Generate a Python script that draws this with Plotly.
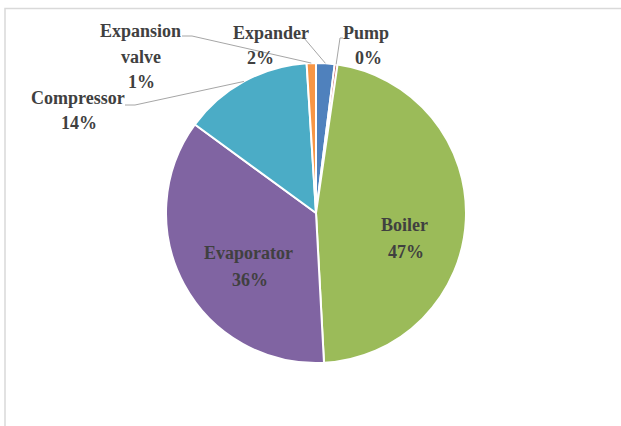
import math
import plotly.graph_objects as go

# ---- data (Excel order, clockwise from 12 o'clock) ----
labels = ["Expander", "Pump", "Boiler", "Evaporator", "Compressor", "Expansion valve"]
values = [2.0, 0.3, 47.0, 36.0, 14.0, 1.0]
colors = ["#4F81BD", "#C0504D", "#9BBB59", "#8064A2", "#4BACC6", "#F79646"]
label_lines = [["Expander"], ["Pump"], ["Boiler"], ["Evaporator"], ["Compressor"], ["Expansion", "valve"]]

W, H = 621, 426
CX, CY, R = 316, 213, 150

def px(x):
    return x / W

def py(y):
    return 1 - y / H

fig = go.Figure(go.Pie(
    labels=labels,
    values=values,
    sort=False,
    direction="clockwise",
    rotation=0,
    marker=dict(colors=colors, line=dict(color="white", width=2)),
    textinfo="none",
    hoverinfo="label+percent",
    domain=dict(x=[px(CX - R), px(CX + R)], y=[py(CY + R), py(CY - R)]),
    showlegend=False,
))

total = sum(values)
# layout: centre of each text line, leader start (x, y, horizontal stub dx) or None
label_layout = {
    "Expander": ([(271, 33), (260, 58)], (298, 38, 6)),
    "Pump": ([(366, 33), (368, 58)], (343, 38, -3)),
    "Boiler": ([(404, 225), (406, 252)], None),
    "Evaporator": ([(248, 253), (250, 280)], None),
    "Compressor": ([(78, 98), (79, 123)], (125, 105, 10)),
    "Expansion valve": ([(140, 31), (141, 57), (141, 82)], (182, 36, 10)),
}

font = dict(family="Liberation Serif", size=18, color="#404040", weight="bold")
annotations = []
shapes = [dict(type="rect", xref="paper", yref="paper",
               x0=px(5), x1=1.05, y0=-0.05, y1=py(8.5),
               line=dict(color="#D9D9D9", width=1.5))]
cum = 0.0
for lab, lines, v in zip(labels, label_lines, values):
    mid = (cum + v / 2) / total * 2 * math.pi
    cum += v
    pct = f"{round(v / total * 100):.0f}%"
    pos, leader = label_layout[lab]
    for txt, (lx, ly) in zip(lines + [pct], pos):
        annotations.append(dict(
            x=px(lx), y=py(ly), xref="paper", yref="paper",
            xanchor="center", yanchor="middle",
            text=txt, showarrow=False, font=font, align="center",
        ))
    if leader:
        sx, sy, stub = leader
        tx = CX + R * math.sin(mid)
        ty = CY - R * math.cos(mid)
        path = (f"M {px(sx)} {py(sy)} L {px(sx + stub)} {py(sy)} "
                f"L {px(tx)} {py(ty)}")
        shapes.append(dict(type="path", xref="paper", yref="paper", path=path,
                           line=dict(color="#A6A6A6", width=1)))

fig.update_layout(
    width=W, height=H, autosize=False,
    margin=dict(l=0, r=0, t=0, b=0),
    paper_bgcolor="white", plot_bgcolor="white",
    annotations=annotations,
    shapes=shapes,
)

fig.write_html("out.html", config={"displayModeBar": False},
               post_script="document.body.style.margin='0';")
